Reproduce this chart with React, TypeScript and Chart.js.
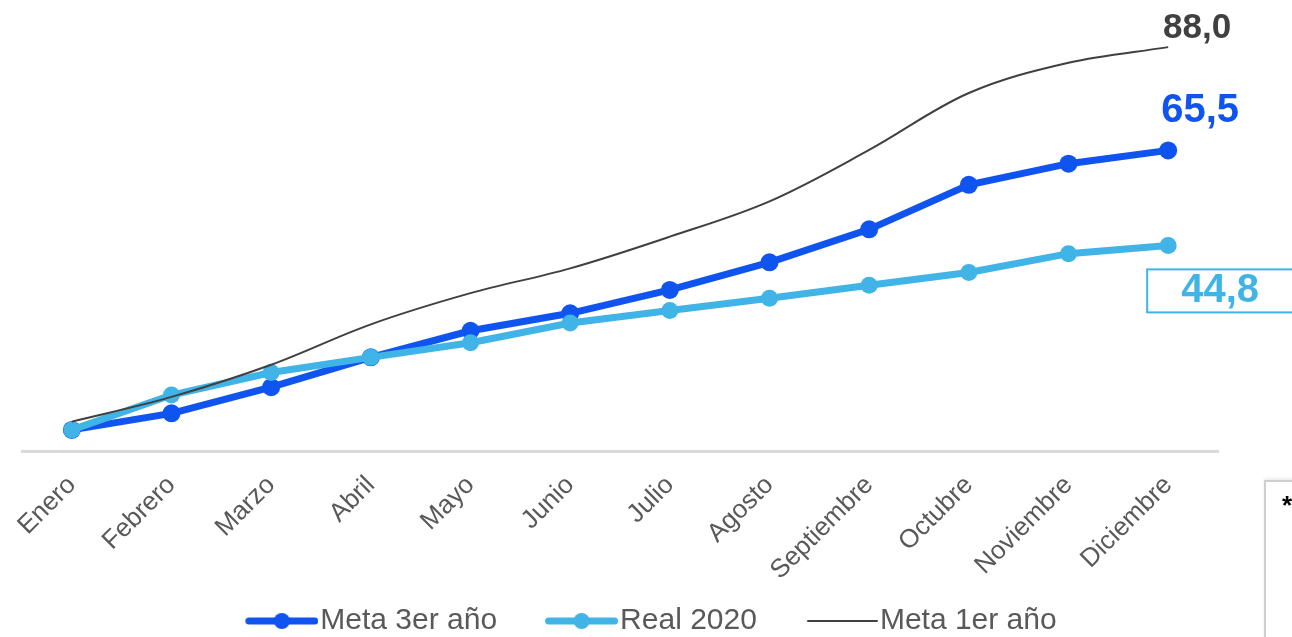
import React, { useEffect, useRef } from "react";
import { Chart, registerables } from "chart.js";

Chart.register(...registerables);

// Monthly categories
const months = [
  "Enero", "Febrero", "Marzo", "Abril", "Mayo", "Junio",
  "Julio", "Agosto", "Septiembre", "Octubre", "Noviembre", "Diciembre",
];

// Accumulated values per month
const meta3erAno = [4.6, 8.2, 13.9, 20.4, 26.2, 30.0, 35.1, 41.1, 48.3, 58.0, 62.6, 65.5];
const real2020 = [4.6, 12.2, 17.1, 20.4, 23.6, 27.9, 30.6, 33.3, 36.1, 38.9, 43.0, 44.8];
const meta1erAno = [6.4, 11.8, 18.8, 27.6, 34.4, 39.8, 46.7, 54.4, 65.6, 78.0, 84.6, 88.0];

const seriesNames = ["Meta 3er año", "Real 2020", "Meta 1er año"];

const DARK_BLUE = "#1054F0";
const LIGHT_BLUE = "#40B4E6";
const GRAY = "#404040";
const FONT = "'Liberation Sans', Arial, sans-serif";

const fmt = (v: number) => v.toFixed(1).replace(".", ",");

// Legend swatch: a stroke with an optional marker, drawn at the right end of the image
const ICON_BOX = 96;
function makeLegendIcon(color: string, lineWidth: number, radius: number, length: number) {
  const w = ICON_BOX + 26;
  const h = 22;
  const start = w - length;
  const c = document.createElement("canvas");
  c.width = w;
  c.height = h;
  const ctx = c.getContext("2d")!;
  ctx.strokeStyle = color;
  ctx.lineWidth = lineWidth;
  ctx.lineCap = "round";
  ctx.beginPath();
  ctx.moveTo(start + lineWidth / 2, h / 2);
  ctx.lineTo(w - lineWidth / 2, h / 2);
  ctx.stroke();
  if (radius > 0) {
    ctx.fillStyle = color;
    ctx.beginPath();
    ctx.arc((start + w) / 2, h / 2, radius, 0, Math.PI * 2);
    ctx.fill();
  }
  return c;
}

// Value labels at the last point of each series
const endLabels = {
  id: "endLabels",
  afterDatasetsDraw(chart: any) {
    const ctx = chart.ctx as CanvasRenderingContext2D;
    const last = months.length - 1;
    const p0 = chart.getDatasetMeta(0).data[last];
    const p1 = chart.getDatasetMeta(1).data[last];
    const p2 = chart.getDatasetMeta(2).data[last];
    ctx.save();
    ctx.textAlign = "center";
    ctx.textBaseline = "middle";

    ctx.font = `bold 35px ${FONT}`;
    ctx.fillStyle = GRAY;
    ctx.fillText(fmt(meta1erAno[last]), p2.x + 29, p2.y - 19);

    ctx.font = `bold 40px ${FONT}`;
    ctx.fillStyle = DARK_BLUE;
    ctx.fillText(fmt(meta3erAno[last]), p0.x + 32, p0.y - 39);

    ctx.strokeStyle = LIGHT_BLUE;
    ctx.lineWidth = 2;
    ctx.strokeRect(p1.x - 21, p1.y + 24, 200, 43);
    ctx.font = `bold 40px ${FONT}`;
    ctx.fillStyle = LIGHT_BLUE;
    ctx.fillText(fmt(real2020[last]), p1.x + 52, p1.y + 46);
    ctx.restore();
  },
};

export default function App() {
  const ref = useRef<HTMLCanvasElement | null>(null);

  useEffect(() => {
    if (!ref.current) return;
    const icons = [
      makeLegendIcon(DARK_BLUE, 7, 8, 73),
      makeLegendIcon(LIGHT_BLUE, 7, 8, 73),
      makeLegendIcon(GRAY, 2, 0, 71),
    ];
    const chart = new Chart(ref.current, {
      type: "line",
      data: {
        labels: months,
        datasets: [
          {
            label: seriesNames[0],
            data: meta3erAno,
            borderColor: DARK_BLUE,
            backgroundColor: DARK_BLUE,
            borderWidth: 7,
            pointRadius: 9,
            pointBorderWidth: 0,
            tension: 0,
            order: 3,
          },
          {
            label: seriesNames[1],
            data: real2020,
            borderColor: LIGHT_BLUE,
            backgroundColor: LIGHT_BLUE,
            borderWidth: 7,
            pointRadius: 8.5,
            pointBorderWidth: 0,
            tension: 0,
            order: 2,
          },
          {
            label: seriesNames[2],
            data: meta1erAno,
            borderColor: GRAY,
            backgroundColor: GRAY,
            borderWidth: 2,
            pointRadius: 0,
            tension: 0.35,
            order: 1,
          },
        ],
      },
      options: {
        animation: false,
        responsive: true,
        maintainAspectRatio: false,
        layout: { padding: { left: 0, right: 26, top: 15, bottom: -9 } },
        plugins: {
          tooltip: { enabled: false },
          legend: {
            position: "bottom",
            labels: {
              usePointStyle: true,
              pointStyleWidth: ICON_BOX,
              padding: 12,
              color: "#595959",
              font: { family: FONT, size: 30 },
              sort: (a: any, b: any) => a.datasetIndex - b.datasetIndex,
              generateLabels: (c: any) =>
                Chart.defaults.plugins.legend.labels
                  .generateLabels(c)
                  .map((item: any) => ({ ...item, pointStyle: icons[item.datasetIndex] })),
            },
          },
        },
        scales: {
          x: {
            offset: true,
            grid: { display: false, drawTicks: false },
            border: { display: true, color: "#D9D9D9", width: 3 },
            ticks: {
              autoSkip: false,
              maxRotation: 45,
              minRotation: 45,
              padding: 19,
              color: "#595959",
              font: { family: FONT, size: 26 },
            },
            afterFit: (s: any) => {
              s.height = 143;
            },
          },
          y: {
            min: 0,
            max: 95,
            display: true,
            grid: { display: false },
            border: { display: false },
            ticks: { display: false },
            afterFit: (s: any) => {
              s.width = 22;
            },
          },
          y2: {
            position: "right",
            min: 0,
            max: 95,
            display: true,
            grid: { display: false },
            border: { display: false },
            ticks: { display: false },
            afterFit: (s: any) => {
              s.width = 48;
            },
          },
        },
      },
      plugins: [endLabels],
    });
    return () => chart.destroy();
  }, []);

  return (
    <div
      style={{
        position: "fixed",
        left: 0,
        top: 0,
        width: 1292,
        height: 637,
        background: "#fff",
        overflow: "hidden",
      }}
    >
      <div style={{ position: "absolute", left: 0, top: 0, width: 1292, height: 637 }}>
        <canvas ref={ref} />
      </div>
      <div
        style={{
          position: "absolute",
          left: 1264,
          top: 480,
          width: 60,
          height: 200,
          border: "2px solid #CFCFCF",
          boxShadow: "0 -2px 3px rgba(0,0,0,0.08)",
          background: "#fff",
          fontFamily: FONT,
          fontWeight: "bold",
          fontSize: 26,
          color: "#000",
          paddingLeft: 16,
          paddingTop: 8,
          boxSizing: "border-box",
        }}
      >
        *
      </div>
    </div>
  );
}
